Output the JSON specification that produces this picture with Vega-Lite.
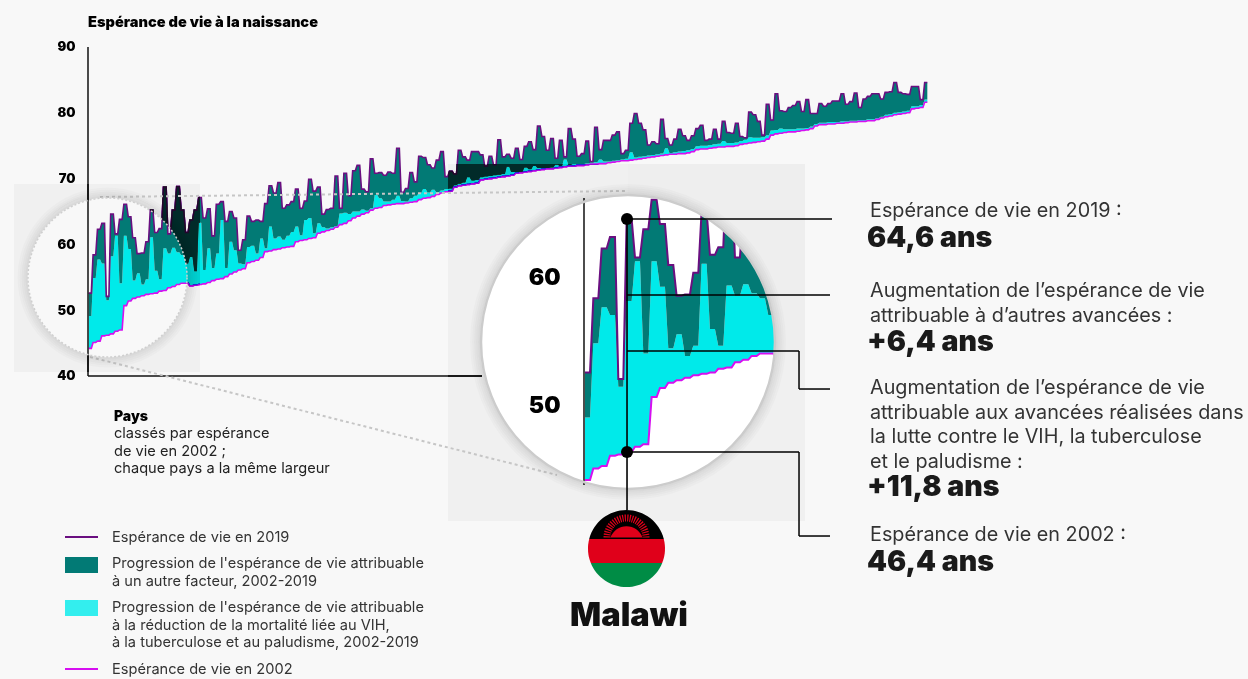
{
"$schema":"https://vega.github.io/schema/vega-lite/v6.json",
"width":1248,"height":679,"autosize":{"type":"none"},"padding":0,"background":"#f8f8f8",
"config":{"view":{"stroke":null},"axis":{"domain":false,"ticks":false,"labels":false,"grid":false,"title":null},
"style":{
"body":{"font":"Inter","fontSize":19.8,"align":"left","baseline":"middle","color":"#333333","dy":1.5},
"big":{"font":"Inter","fontSize":28.5,"fontWeight":900,"align":"left","baseline":"middle","color":"#1a1a1a","dy":1},
"note":{"font":"Inter","fontSize":14.6,"align":"left","baseline":"middle","color":"#222222","dy":1},
"leg":{"font":"Inter","fontSize":14.6,"align":"left","baseline":"middle","color":"#333333","dy":1}
}},
"datasets":{"one":[{"k":1}],"c":[
{"r":0,"a":-0.3,"b":0.3,"l":44.2,"m":49.1,"u":52.6},{"r":1,"a":0.7,"b":1.3,"l":45.1,"m":54.9,"u":58.4},{"r":2,"a":1.7,"b":2.3,"l":45.3,"m":57.7,"u":62.3},{"r":3,"a":2.7,"b":3.3,"l":46.1,"m":57.1,"u":63.2},{"r":4,"a":3.7,"b":4.3,"l":46.2,"m":51.5,"u":52.1},{"r":5,"a":4.7,"b":5.3,"l":46.4,"m":58.2,"u":64.6},{"r":6,"a":5.7,"b":6.3,"l":46.8,"m":61.3,"u":61.6},{"r":7,"a":6.7,"b":7.3,"l":47,"m":54.1,"u":63.8},{"r":8,"a":7.7,"b":8.3,"l":50.7,"m":61.3,"u":66.1},{"r":9,"a":8.7,"b":9.3,"l":51.4,"m":59.3,"u":64.2},
{"r":10,"a":9.7,"b":10.3,"l":51.8,"m":54.5,"u":61},{"r":11,"a":10.7,"b":11.3,"l":52,"m":55.6,"u":58.6},{"r":12,"a":11.7,"b":12.3,"l":52.2,"m":53.9,"u":58.7},{"r":13,"a":12.7,"b":13.3,"l":52.4,"m":54.7,"u":60.4},{"r":14,"a":13.7,"b":14.3,"l":52.5,"m":61.1,"u":65.2},{"r":15,"a":14.7,"b":15.3,"l":52.6,"m":56,"u":61.8},{"r":16,"a":15.7,"b":16.3,"l":52.9,"m":54.7,"u":62.4},{"r":17,"a":16.7,"b":17.3,"l":53,"m":59.4,"u":68.7},{"r":18,"a":17.7,"b":18.3,"l":53.4,"m":58.6,"u":61.6},{"r":19,"a":18.7,"b":19.3,"l":53.6,"m":59.5,"u":65.2},
{"r":20,"a":19.7,"b":20.3,"l":53.9,"m":58.8,"u":68.8},{"r":21,"a":20.7,"b":21.3,"l":54.1,"m":58.4,"u":65.2},{"r":22,"a":21.7,"b":22.3,"l":54.1,"m":57.1,"u":61.8},{"r":23,"a":22.7,"b":23.3,"l":53.7,"m":58.1,"u":63.7},{"r":24,"a":23.7,"b":24.3,"l":53.8,"m":55.9,"u":65.2},{"r":25,"a":24.7,"b":25.3,"l":53.9,"m":63.3,"u":67.1},{"r":26,"a":25.7,"b":26.3,"l":54,"m":56.1,"u":64},{"r":27,"a":26.7,"b":27.3,"l":54.2,"m":59.4,"u":65.4},{"r":28,"a":27.7,"b":28.3,"l":54.5,"m":56.4,"u":61.3},{"r":29,"a":28.7,"b":29.3,"l":54.7,"m":58.6,"u":66.1},
{"r":30,"a":29.7,"b":30.3,"l":54.8,"m":63.7,"u":66.5},{"r":31,"a":30.7,"b":31.3,"l":55.1,"m":56.4,"u":63.5},{"r":32,"a":31.7,"b":32.3,"l":55.5,"m":60.4,"u":65},{"r":33,"a":32.7,"b":33.3,"l":55.8,"m":59.1,"u":64},{"r":34,"a":33.7,"b":34.3,"l":56.1,"m":57.1,"u":59.1},{"r":35,"a":34.7,"b":35.3,"l":56.3,"m":57,"u":60.7},{"r":36,"a":35.7,"b":36.3,"l":57.2,"m":59.6,"u":64.3},{"r":37,"a":36.7,"b":37.3,"l":57.4,"m":59.8,"u":63.5},{"r":38,"a":37.7,"b":38.3,"l":57.6,"m":58.6,"u":63.7},{"r":39,"a":38.7,"b":39.3,"l":58,"m":60.9,"u":63.5},
{"r":40,"a":39.7,"b":40.3,"l":58.9,"m":59.4,"u":66.2},{"r":41,"a":40.7,"b":41.3,"l":59,"m":62.7,"u":68.9},{"r":42,"a":41.7,"b":42.3,"l":59.2,"m":60.9,"u":67.8},{"r":43,"a":42.7,"b":43.3,"l":59.3,"m":61.2,"u":69.4},{"r":44,"a":43.7,"b":44.3,"l":59.5,"m":60.7,"u":65.5},{"r":45,"a":44.7,"b":45.3,"l":59.6,"m":61.3,"u":66},{"r":46,"a":45.7,"b":46.3,"l":59.7,"m":61.9,"u":66.5},{"r":47,"a":46.7,"b":47.3,"l":60.4,"m":62.7,"u":68.4},{"r":48,"a":47.7,"b":48.3,"l":60.6,"m":61.4,"u":65.5},{"r":49,"a":48.7,"b":49.3,"l":60.7,"m":63.7,"u":66.6},
{"r":50,"a":49.7,"b":50.3,"l":60.9,"m":64,"u":69.9},{"r":51,"a":50.7,"b":51.3,"l":61,"m":61.7,"u":68.1},{"r":52,"a":51.7,"b":52.3,"l":61.7,"m":63.2,"u":68.7},{"r":53,"a":52.7,"b":53.3,"l":61.9,"m":62.6,"u":64.6},{"r":54,"a":53.7,"b":54.3,"l":62.1,"m":62.4,"u":65.3},{"r":55,"a":54.7,"b":55.3,"l":62.3,"m":62.6,"u":65.5},{"r":56,"a":55.7,"b":56.3,"l":62.6,"m":62.8,"u":70.4},{"r":57,"a":56.7,"b":57.3,"l":63,"m":64.7,"u":65.5},{"r":58,"a":57.7,"b":58.3,"l":63.2,"m":64.8,"u":70.8},{"r":59,"a":58.7,"b":59.3,"l":63.6,"m":64.6,"u":67.4},
{"r":60,"a":59.7,"b":60.3,"l":64,"m":65,"u":71.2},{"r":61,"a":60.7,"b":61.3,"l":64.3,"m":65,"u":72},{"r":62,"a":61.7,"b":62.3,"l":64.6,"m":65.3,"u":68.4},{"r":63,"a":62.7,"b":63.3,"l":64.8,"m":65.1,"u":68},{"r":64,"a":63.7,"b":64.3,"l":65.2,"m":65.5,"u":73},{"r":65,"a":64.7,"b":65.3,"l":65.5,"m":67.5,"u":70.8},{"r":66,"a":65.7,"b":66.3,"l":65.6,"m":67,"u":70.9},{"r":67,"a":66.7,"b":67.3,"l":65.9,"m":66.5,"u":70.5},{"r":68,"a":67.7,"b":68.3,"l":66,"m":66.5,"u":71},{"r":69,"a":68.7,"b":69.3,"l":66.1,"m":66.8,"u":70.8},
{"r":70,"a":69.7,"b":70.3,"l":66.2,"m":67.4,"u":74.6},{"r":71,"a":70.7,"b":71.3,"l":66.2,"m":66.6,"u":67.9},{"r":72,"a":71.7,"b":72.3,"l":66.3,"m":66.5,"u":68.5},{"r":73,"a":72.7,"b":73.3,"l":66.4,"m":67,"u":70.9},{"r":74,"a":73.7,"b":74.3,"l":66.5,"m":67.4,"u":69.5},{"r":75,"a":74.7,"b":75.3,"l":66.8,"m":67.8,"u":73.4},{"r":76,"a":75.7,"b":76.3,"l":67,"m":68.4,"u":73.2},{"r":77,"a":76.7,"b":77.3,"l":67.1,"m":67.9,"u":72.1},{"r":78,"a":77.7,"b":78.3,"l":67.3,"m":68.3,"u":71.6},{"r":79,"a":78.7,"b":79.3,"l":67.6,"m":67.9,"u":72.8},
{"r":80,"a":79.7,"b":80.3,"l":67.8,"m":68.2,"u":74.1},{"r":81,"a":80.7,"b":81.3,"l":68,"m":68.4,"u":70.3},{"r":82,"a":81.7,"b":82.3,"l":68.1,"m":68.5,"u":71.1},{"r":83,"a":82.7,"b":83.3,"l":68.7,"m":69,"u":70.7},{"r":84,"a":83.7,"b":84.3,"l":68.9,"m":69.2,"u":74.3},{"r":85,"a":84.7,"b":85.3,"l":69,"m":69.4,"u":73.3},{"r":86,"a":85.7,"b":86.3,"l":69.1,"m":70.2,"u":72.8},{"r":87,"a":86.7,"b":87.3,"l":69.2,"m":69.7,"u":74.1},{"r":88,"a":87.7,"b":88.3,"l":69.3,"m":69.8,"u":74.1},{"r":89,"a":88.7,"b":89.3,"l":69.8,"m":70.2,"u":73.6},
{"r":90,"a":89.7,"b":90.3,"l":69.9,"m":70.3,"u":71.9},{"r":91,"a":90.7,"b":91.3,"l":70,"m":70.4,"u":73.4},{"r":92,"a":91.7,"b":92.3,"l":70.1,"m":70.5,"u":72.1},{"r":93,"a":92.7,"b":93.3,"l":70.2,"m":70.6,"u":75.9},{"r":94,"a":93.7,"b":94.3,"l":70.3,"m":70.7,"u":73.3},{"r":95,"a":94.7,"b":95.3,"l":70.4,"m":71.8,"u":73.7},{"r":96,"a":95.7,"b":96.3,"l":70.5,"m":71,"u":73.1},{"r":97,"a":96.7,"b":97.3,"l":70.8,"m":71,"u":74.6},{"r":98,"a":97.7,"b":98.3,"l":70.9,"m":71,"u":72.9},{"r":99,"a":98.7,"b":99.3,"l":71,"m":71.7,"u":74.9},
{"r":100,"a":99.7,"b":100.3,"l":71.1,"m":71.4,"u":75.6},{"r":101,"a":100.7,"b":101.3,"l":71.2,"m":71.9,"u":74.4},{"r":102,"a":101.7,"b":102.3,"l":71.3,"m":71.6,"u":78},{"r":103,"a":102.7,"b":103.3,"l":71.4,"m":71.6,"u":76.4},{"r":104,"a":103.7,"b":104.3,"l":71.5,"m":71.6,"u":74.3},{"r":105,"a":104.7,"b":105.3,"l":71.5,"m":71.7,"u":76.1},{"r":106,"a":105.7,"b":106.3,"l":71.6,"m":72.1,"u":73.1},{"r":107,"a":106.7,"b":107.3,"l":71.7,"m":71.9,"u":75.8},{"r":108,"a":107.7,"b":108.3,"l":71.8,"m":72.9,"u":73.3},{"r":109,"a":108.7,"b":109.3,"l":71.9,"m":72.1,"u":77.6},
{"r":110,"a":109.7,"b":110.3,"l":71.9,"m":72.2,"u":76},{"r":111,"a":110.7,"b":111.3,"l":72,"m":72.2,"u":73.4},{"r":112,"a":111.7,"b":112.3,"l":72,"m":72.2,"u":73.8},{"r":113,"a":112.7,"b":113.3,"l":72.1,"m":72.3,"u":75.7},{"r":114,"a":113.7,"b":114.3,"l":72.2,"m":72.4,"u":72.6},{"r":115,"a":114.7,"b":115.3,"l":72.2,"m":72.5,"u":77.8},{"r":116,"a":115.7,"b":116.3,"l":72.3,"m":72.9,"u":74.4},{"r":117,"a":116.7,"b":117.3,"l":72.3,"m":72.6,"u":75.8},{"r":118,"a":117.7,"b":118.3,"l":72.4,"m":72.6,"u":75.8},{"r":119,"a":118.7,"b":119.3,"l":72.5,"m":72.7,"u":76.6},
{"r":120,"a":119.7,"b":120.3,"l":72.6,"m":72.8,"u":77.1},{"r":121,"a":120.7,"b":121.3,"l":72.7,"m":72.9,"u":73.8},{"r":122,"a":121.7,"b":122.3,"l":72.7,"m":73,"u":74.3},{"r":123,"a":122.7,"b":123.3,"l":72.8,"m":74,"u":78.4},{"r":124,"a":123.7,"b":124.3,"l":72.9,"m":73.2,"u":79.9},{"r":125,"a":124.7,"b":125.3,"l":73,"m":73.3,"u":78.4},{"r":126,"a":125.7,"b":126.3,"l":73.1,"m":73.4,"u":77.4},{"r":127,"a":126.7,"b":127.3,"l":73.2,"m":73.5,"u":75.1},{"r":128,"a":127.7,"b":128.3,"l":73.3,"m":73.6,"u":75.6},{"r":129,"a":128.7,"b":129.3,"l":73.4,"m":73.7,"u":75.3},
{"r":130,"a":129.7,"b":130.3,"l":73.5,"m":73.8,"u":79},{"r":131,"a":130.7,"b":131.3,"l":73.6,"m":74.6,"u":76.1},{"r":132,"a":131.7,"b":132.3,"l":73.7,"m":73.9,"u":75.1},{"r":133,"a":132.7,"b":133.3,"l":73.7,"m":74,"u":76},{"r":134,"a":133.7,"b":134.3,"l":73.8,"m":74.1,"u":77.5},{"r":135,"a":134.7,"b":135.3,"l":73.8,"m":74.2,"u":76.5},{"r":136,"a":135.7,"b":136.3,"l":73.9,"m":74.3,"u":75.8},{"r":137,"a":136.7,"b":137.3,"l":74.1,"m":74.5,"u":76.5},{"r":138,"a":137.7,"b":138.3,"l":74.4,"m":74.9,"u":77.6},{"r":139,"a":138.7,"b":139.3,"l":74.5,"m":75,"u":78.1},
{"r":140,"a":139.7,"b":140.3,"l":74.5,"m":75,"u":75.8},{"r":141,"a":140.7,"b":141.3,"l":74.6,"m":75.1,"u":76},{"r":142,"a":141.7,"b":142.3,"l":74.7,"m":75.2,"u":77.5},{"r":143,"a":142.7,"b":143.3,"l":74.8,"m":75.3,"u":76},{"r":144,"a":143.7,"b":144.3,"l":74.8,"m":75.7,"u":78.7},{"r":145,"a":144.7,"b":145.3,"l":74.9,"m":75.4,"u":77},{"r":146,"a":145.7,"b":146.3,"l":74.9,"m":75.4,"u":76.9},{"r":147,"a":146.7,"b":147.3,"l":75,"m":75.5,"u":78.4},{"r":148,"a":147.7,"b":148.3,"l":75.2,"m":75.7,"u":76.4},{"r":149,"a":148.7,"b":149.3,"l":75.3,"m":75.9,"u":76.2},
{"r":150,"a":149.7,"b":150.3,"l":75.4,"m":76.3,"u":80.1},{"r":151,"a":150.7,"b":151.3,"l":75.5,"m":76.2,"u":79.7},{"r":152,"a":151.7,"b":152.3,"l":75.6,"m":76.2,"u":78.7},{"r":153,"a":152.7,"b":153.3,"l":75.7,"m":76.3,"u":76.6},{"r":154,"a":153.7,"b":154.3,"l":76,"m":76.6,"u":81.3},{"r":155,"a":154.7,"b":155.3,"l":76.6,"m":77.3,"u":78.9},{"r":156,"a":155.7,"b":156.3,"l":76.8,"m":77.4,"u":82.9},{"r":157,"a":156.7,"b":157.3,"l":76.9,"m":77.6,"u":80.3},{"r":158,"a":157.7,"b":158.3,"l":77,"m":77.5,"u":80.2},{"r":159,"a":158.7,"b":159.3,"l":77.1,"m":77.5,"u":80.8},
{"r":160,"a":159.7,"b":160.3,"l":77.1,"m":77.5,"u":81.1},{"r":161,"a":160.7,"b":161.3,"l":77.2,"m":77.6,"u":81.7},{"r":162,"a":161.7,"b":162.3,"l":77.3,"m":77.6,"u":80.2},{"r":163,"a":162.7,"b":163.3,"l":77.4,"m":77.7,"u":82},{"r":164,"a":163.7,"b":164.3,"l":77.6,"m":77.9,"u":79.9},{"r":165,"a":164.7,"b":165.3,"l":78,"m":78.3,"u":79.9},{"r":166,"a":165.7,"b":166.3,"l":78.2,"m":78.5,"u":81.4},{"r":167,"a":166.7,"b":167.3,"l":78.2,"m":78.5,"u":81},{"r":168,"a":167.7,"b":168.3,"l":78.3,"m":78.6,"u":81.4},{"r":169,"a":168.7,"b":169.3,"l":78.3,"m":78.6,"u":81.8},
{"r":170,"a":169.7,"b":170.3,"l":78.4,"m":78.6,"u":81.8},{"r":171,"a":170.7,"b":171.3,"l":78.4,"m":78.7,"u":82.9},{"r":172,"a":171.7,"b":172.3,"l":78.5,"m":78.7,"u":81.3},{"r":173,"a":172.7,"b":173.3,"l":78.6,"m":78.8,"u":81.7},{"r":174,"a":173.7,"b":174.3,"l":78.6,"m":78.8,"u":83},{"r":175,"a":174.7,"b":175.3,"l":78.7,"m":78.9,"u":80.8},{"r":176,"a":175.7,"b":176.3,"l":78.7,"m":78.9,"u":82.1},{"r":177,"a":176.7,"b":177.3,"l":78.8,"m":79,"u":82.5},{"r":178,"a":177.7,"b":178.3,"l":78.8,"m":79,"u":82.9},{"r":179,"a":178.7,"b":179.3,"l":79,"m":79.2,"u":82.9},
{"r":180,"a":179.7,"b":180.3,"l":79.2,"m":79.4,"u":82.1},{"r":181,"a":180.7,"b":181.3,"l":79.4,"m":79.7,"u":83.1},{"r":182,"a":181.7,"b":182.3,"l":79.5,"m":79.8,"u":83.2},{"r":183,"a":182.7,"b":183.3,"l":79.7,"m":80,"u":84.6},{"r":184,"a":183.7,"b":184.3,"l":79.8,"m":80.1,"u":83.1},{"r":185,"a":184.7,"b":185.3,"l":79.9,"m":80.2,"u":82.9},{"r":186,"a":185.7,"b":186.3,"l":80,"m":80.3,"u":82.8},{"r":187,"a":186.7,"b":187.3,"l":80.6,"m":81,"u":84},{"r":188,"a":187.7,"b":188.3,"l":80.7,"m":81,"u":84},{"r":189,"a":188.7,"b":189.3,"l":80.8,"m":81.2,"u":82},
{"r":190,"a":189.7,"b":190.3,"l":81.6,"m":82,"u":84.6}
]},
"resolve":{"scale":{"x":"independent","y":"independent"}},
"layer":[
{"data":{"name":"one"},"layer":[
{"data":{"name":"c"},"transform":[{"fold":["a","b"],"as":["e","p"]}],"mark":{"type":"area","color":"#00eaea"},
 "encoding":{"x":{"field":"p","type":"quantitative","axis":{"title":null},"scale":{"domain":[-20.4545,263.1818],"zero":false,"nice":false}},
  "y":{"field":"l","type":"quantitative","scale":{"domain":[-6.05,97.14],"zero":false,"nice":false},
   "axis":{"title":null,"orient":"left","offset":-81,"values":[40,50,60,70,80,90],"labels":true,"labelFont":"Inter","labelFontWeight":900,"labelFontSize":13,"labelColor":"#000000","labelPadding":6,"zindex":1}},
  "y2":{"field":"m"}}},
{"data":{"name":"c"},"transform":[{"fold":["a","b"],"as":["e","p"]}],"mark":{"type":"area","color":"#027a75"},
 "encoding":{"x":{"field":"p","type":"quantitative"},"y":{"field":"m","type":"quantitative"},"y2":{"field":"u"}}},
{"data":{"name":"c"},"transform":[{"fold":["a","b"],"as":["e","p"]}],"mark":{"type":"line","color":"#6a0f80","strokeWidth":1.6},
 "encoding":{"x":{"field":"p","type":"quantitative"},"y":{"field":"u","type":"quantitative"}}},
{"data":{"name":"c"},"transform":[{"fold":["a","b"],"as":["e","p"]}],"mark":{"type":"line","color":"#d60ff0","strokeWidth":1.6},
 "encoding":{"x":{"field":"p","type":"quantitative"},"y":{"field":"l","type":"quantitative"}}},
{"mark":{"type":"rule","color":"#111111","strokeWidth":1.5},"encoding":{"x":{"datum":-0.455},"y":{"datum":90},"y2":{"datum":40}}},
{"mark":{"type":"rule","color":"#111111","strokeWidth":1.5},"encoding":{"x":{"datum":-0.455},"x2":{"datum":89.09},"y":{"datum":40}}},
{"mark":{"type":"point","filled":true,"color":"#595959","opacity":0.65,"blend":"color-burn","size":4,"shape":"M-93.5,-93.5 L92.5,-93.5 L92.5,94.5 L-93.5,94.5 Z M0,-79.5 A79.5,79.5 0 1 0 0,79.5 A79.5,79.5 0 1 0 0,-79.5 Z"},
 "encoding":{"x":{"datum":3.98},"y":{"datum":54.97}}},
{"mark":{"type":"rect","color":"#595959","opacity":0.65,"blend":"color-burn"},"encoding":{"x":{"datum":81.36},"x2":{"datum":162.5},"y":{"datum":72.22},"y2":{"datum":17.96}}},
{"mark":{"type":"rule","color":"#c6c6c6","strokeWidth":2,"strokeDash":[3,3]},"encoding":{"x":{"datum":2.27},"x2":{"datum":121.82},"y":{"datum":67.2},"y2":{"datum":68.12}}},
{"mark":{"type":"rule","color":"#c6c6c6","strokeWidth":2,"strokeDash":[3,3]},"encoding":{"x":{"datum":0},"x2":{"datum":106.14},"y":{"datum":42.89},"y2":{"datum":24.95}}},
{"mark":{"type":"point","filled":false,"color":"#000000","opacity":0.015,"strokeWidth":2,"size":31684},"encoding":{"x":{"datum":3.98},"y":{"datum":54.97}}},
{"mark":{"type":"point","filled":false,"color":"#000000","opacity":0.03,"strokeWidth":2,"size":30276},"encoding":{"x":{"datum":3.98},"y":{"datum":54.97}}},
{"mark":{"type":"point","filled":false,"color":"#000000","opacity":0.05,"strokeWidth":2,"size":28900},"encoding":{"x":{"datum":3.98},"y":{"datum":54.97}}},
{"mark":{"type":"point","filled":false,"color":"#000000","opacity":0.07,"strokeWidth":2,"size":27556},"encoding":{"x":{"datum":3.98},"y":{"datum":54.97}}},
{"mark":{"type":"point","filled":false,"color":"#000000","opacity":0.09,"strokeWidth":2,"size":26244},"encoding":{"x":{"datum":3.98},"y":{"datum":54.97}}},
{"mark":{"type":"point","filled":false,"color":"#cfcfcf","opacity":1,"strokeWidth":1.5,"strokeDash":[2,2],"size":25281},"encoding":{"x":{"datum":3.98},"y":{"datum":54.97}}}
]},
{"data":{"name":"one"},"layer":[
{"mark":{"type":"point","filled":true,"color":"#ffffff","opacity":1,"size":86436},
 "encoding":{"x":{"datum":4.86,"axis":{"title":null},"scale":{"domain":[-70.528,79.292],"zero":false,"nice":false}},
  "y":{"datum":54.99,"scale":{"domain":[28.66,81.71],"zero":false,"nice":false},
   "axis":{"title":null,"orient":"left","offset":-566,"values":[50,60],"labels":true,"labelFont":"Inter","labelFontWeight":900,"labelFontSize":23,"labelColor":"#000000","labelPadding":6,"zindex":1}}}},
{"mark":{"type":"rule","color":"#111111","strokeWidth":1.5},"encoding":{"x":{"datum":-0.42},"y":{"datum":66.24},"y2":{"datum":43.82}}},
{"data":{"name":"c"},"transform":[{"filter":"datum.r<=23"},{"fold":["a","b"],"as":["e","p"]}],"mark":{"type":"area","color":"#00eaea"},
 "encoding":{"x":{"field":"p","type":"quantitative"},"y":{"field":"l","type":"quantitative"},"y2":{"field":"m"}}},
{"data":{"name":"c"},"transform":[{"filter":"datum.r<=23"},{"fold":["a","b"],"as":["e","p"]}],"mark":{"type":"area","color":"#027a75"},
 "encoding":{"x":{"field":"p","type":"quantitative"},"y":{"field":"m","type":"quantitative"},"y2":{"field":"u"}}},
{"data":{"name":"c"},"transform":[{"filter":"datum.r<=23"},{"fold":["a","b"],"as":["e","p"]}],"mark":{"type":"line","color":"#6a0f80","strokeWidth":2},
 "encoding":{"x":{"field":"p","type":"quantitative"},"y":{"field":"u","type":"quantitative"}}},
{"data":{"name":"c"},"transform":[{"filter":"datum.r<=23"},{"fold":["a","b"],"as":["e","p"]}],"mark":{"type":"line","color":"#d60ff0","strokeWidth":2},
 "encoding":{"x":{"field":"p","type":"quantitative"},"y":{"field":"l","type":"quantitative"}}},
{"mark":{"type":"point","filled":true,"color":"#eeeeee","opacity":1,"size":4,"shape":"M0,-178 L177,-178 L177,18 L145.9,18 A147,147 0 0 0 0,-147 Z"},
 "encoding":{"x":{"datum":4.86},"y":{"datum":54.99}}}
]},
{"data":{"name":"one"},"layer":[
{"mark":{"type":"point","filled":false,"color":"#000000","opacity":0.015,"strokeWidth":2,"size":98596},
 "encoding":{"x":{"datum":122.27,"axis":{"title":null},"scale":{"domain":[-20.4545,263.1818],"zero":false,"nice":false}},"y":{"datum":45.17,"axis":{"title":null},"scale":{"domain":[-6.05,97.14],"zero":false,"nice":false}}}},
{"mark":{"type":"point","filled":false,"color":"#000000","opacity":0.03,"strokeWidth":2,"size":96100},"encoding":{"x":{"datum":122.27},"y":{"datum":45.17}}},
{"mark":{"type":"point","filled":false,"color":"#000000","opacity":0.05,"strokeWidth":2,"size":93636},"encoding":{"x":{"datum":122.27},"y":{"datum":45.17}}},
{"mark":{"type":"point","filled":false,"color":"#000000","opacity":0.07,"strokeWidth":2,"size":91204},"encoding":{"x":{"datum":122.27},"y":{"datum":45.17}}},
{"mark":{"type":"point","filled":false,"color":"#000000","opacity":0.09,"strokeWidth":2,"size":88804},"encoding":{"x":{"datum":122.27},"y":{"datum":45.17}}},
{"mark":{"type":"point","filled":false,"color":"#cccccc","opacity":1,"strokeWidth":2.5,"size":86436},"encoding":{"x":{"datum":122.27},"y":{"datum":45.17}}},

{"mark":{"type":"rule","color":"#000000","strokeWidth":1.6},"encoding":{"x":{"datum":122.05},"y":{"datum":63.86},"y2":{"datum":19.63}}},
{"mark":{"type":"rule","color":"#000000","strokeWidth":1.5},"encoding":{"x":{"datum":122.05},"x2":{"datum":168.64},"y":{"datum":63.86}}},
{"mark":{"type":"rule","color":"#000000","strokeWidth":1.5},"encoding":{"x":{"datum":122.05},"x2":{"datum":168.18},"y":{"datum":52.31}}},
{"mark":{"type":"rule","color":"#000000","strokeWidth":1.5},"encoding":{"x":{"datum":122.05},"x2":{"datum":161.14},"y":{"datum":43.8}}},
{"mark":{"type":"rule","color":"#000000","strokeWidth":1.5},"encoding":{"x":{"datum":161.14},"y":{"datum":43.8},"y2":{"datum":38.02}}},
{"mark":{"type":"rule","color":"#000000","strokeWidth":1.5},"encoding":{"x":{"datum":161.14},"x2":{"datum":168.18},"y":{"datum":38.02}}},
{"mark":{"type":"rule","color":"#000000","strokeWidth":1.5},"encoding":{"x":{"datum":122.05},"x2":{"datum":161.14},"y":{"datum":28.45}}},
{"mark":{"type":"rule","color":"#000000","strokeWidth":1.5},"encoding":{"x":{"datum":161.14},"y":{"datum":28.45},"y2":{"datum":15.68}}},
{"mark":{"type":"rule","color":"#000000","strokeWidth":1.5},"encoding":{"x":{"datum":161.14},"x2":{"datum":168.18},"y":{"datum":15.68}}},
{"mark":{"type":"point","filled":true,"color":"#000000","opacity":1,"size":144},"encoding":{"x":{"datum":122.05},"y":{"datum":63.86}}},
{"mark":{"type":"point","filled":true,"color":"#000000","opacity":1,"size":144},"encoding":{"x":{"datum":122.05},"y":{"datum":28.45}}},

{"mark":{"type":"point","filled":true,"color":"#000000","opacity":1,"size":4,"shape":"M-37.3,-9.5 A38.5,38.5 0 0 1 37.3,-9.5 Z"},"encoding":{"x":{"datum":121.93},"y":{"datum":13.78}}},
{"mark":{"type":"point","filled":true,"color":"#e0001a","opacity":1,"size":4,"shape":"M-37.3,-9.5 L37.3,-9.5 A38.5,38.5 0 0 1 35.7,14.5 L-35.7,14.5 A38.5,38.5 0 0 1 -37.3,-9.5 Z"},"encoding":{"x":{"datum":121.93},"y":{"datum":13.78}}},
{"mark":{"type":"point","filled":true,"color":"#008c45","opacity":1,"size":4,"shape":"M-35.7,14.5 L35.7,14.5 A38.5,38.5 0 0 1 -35.7,14.5 Z"},"encoding":{"x":{"datum":121.93},"y":{"datum":13.78}}},
{"mark":{"type":"point","filled":true,"color":"#e0001a","opacity":1,"size":4,"shape":"M-16,-11 A17,17 0 0 1 16,-11 Z"},"encoding":{"x":{"datum":121.93},"y":{"datum":13.78}}},
{"mark":{"type":"point","filled":false,"color":"#e0001a","opacity":1,"size":4,"strokeWidth":7,"strokeDash":[1.2,1.2],"shape":"M-19.5,-11 A19.5,19.5 0 0 1 19.5,-11"},"encoding":{"x":{"datum":121.93},"y":{"datum":13.78}}},

{"mark":{"type":"text","font":"Inter","fontSize":14.6,"fontWeight":900,"align":"left","baseline":"middle","color":"#000000","dy":1,"text":"Espérance de vie à la naissance"},"encoding":{"x":{"datum":-0.455},"y":{"datum":93.8}}},
{"mark":{"type":"text","font":"Inter","fontSize":14,"fontWeight":900,"align":"left","baseline":"middle","color":"#000000","dy":1,"text":"Pays"},"encoding":{"x":{"datum":5.455},"y":{"datum":33.92}}},
{"mark":{"type":"text","style":"note","text":"classés par espérance"},"encoding":{"x":{"datum":5.455},"y":{"datum":31.34}}},
{"mark":{"type":"text","style":"note","text":"de vie en 2002 ;"},"encoding":{"x":{"datum":5.455},"y":{"datum":28.6}}},
{"mark":{"type":"text","style":"note","text":"chaque pays a la même largeur"},"encoding":{"x":{"datum":5.455},"y":{"datum":26.02}}},

{"mark":{"type":"text","style":"body","text":"Espérance de vie en 2019 :"},"encoding":{"x":{"datum":177.27},"y":{"datum":65.23}}},
{"mark":{"type":"text","style":"big","text":"64,6 ans"},"encoding":{"x":{"datum":176.59},"y":{"datum":61.13}}},
{"mark":{"type":"text","style":"body","text":"Augmentation de l’espérance de vie"},"encoding":{"x":{"datum":177.27},"y":{"datum":53.07}}},
{"mark":{"type":"text","style":"body","text":"attribuable à d’autres avancées :"},"encoding":{"x":{"datum":177.27},"y":{"datum":49.42}}},
{"mark":{"type":"text","style":"big","text":"+6,4 ans"},"encoding":{"x":{"datum":176.59},"y":{"datum":45.32}}},
{"mark":{"type":"text","style":"body","text":"Augmentation de l’espérance de vie"},"encoding":{"x":{"datum":177.27},"y":{"datum":38.33}}},
{"mark":{"type":"text","style":"body","text":"attribuable aux avancées réalisées dans"},"encoding":{"x":{"datum":177.27},"y":{"datum":34.53}}},
{"mark":{"type":"text","style":"body","text":"la lutte contre le VIH, la tuberculose"},"encoding":{"x":{"datum":177.27},"y":{"datum":30.88}}},
{"mark":{"type":"text","style":"body","text":"et le paludisme :"},"encoding":{"x":{"datum":177.27},"y":{"datum":27.23}}},
{"mark":{"type":"text","style":"big","text":"+11,8 ans"},"encoding":{"x":{"datum":176.59},"y":{"datum":23.28}}},
{"mark":{"type":"text","style":"body","text":"Espérance de vie en 2002 :"},"encoding":{"x":{"datum":177.27},"y":{"datum":15.99}}},
{"mark":{"type":"text","style":"big","text":"46,4 ans"},"encoding":{"x":{"datum":176.59},"y":{"datum":11.88}}},
{"mark":{"type":"text","font":"Inter","fontSize":32.6,"fontWeight":900,"align":"center","baseline":"middle","color":"#111111","text":"Malawi"},"encoding":{"x":{"datum":122.5},"y":{"datum":3.52}}},

{"mark":{"type":"rule","color":"#6a0f80","strokeWidth":2},"encoding":{"x":{"datum":-5.68},"x2":{"datum":1.818},"y":{"datum":15.53}}},
{"mark":{"type":"rect","color":"#027a75"},"encoding":{"x":{"datum":-5.68},"x2":{"datum":1.818},"y":{"datum":12.49},"y2":{"datum":10.06}}},
{"mark":{"type":"rect","color":"#33eeee"},"encoding":{"x":{"datum":-5.68},"x2":{"datum":1.818},"y":{"datum":5.96},"y2":{"datum":3.52}}},
{"mark":{"type":"rule","color":"#d60ff0","strokeWidth":2},"encoding":{"x":{"datum":-5.68},"x2":{"datum":1.818},"y":{"datum":-4.53}}},
{"mark":{"type":"text","style":"leg","text":"Espérance de vie en 2019"},"encoding":{"x":{"datum":5},"y":{"datum":15.53}}},
{"mark":{"type":"text","style":"leg","text":"Progression de l'espérance de vie attribuable"},"encoding":{"x":{"datum":5},"y":{"datum":11.58}}},
{"mark":{"type":"text","style":"leg","text":"à un autre facteur, 2002-2019"},"encoding":{"x":{"datum":5},"y":{"datum":8.84}}},
{"mark":{"type":"text","style":"leg","text":"Progression de l'espérance de vie attribuable"},"encoding":{"x":{"datum":5},"y":{"datum":4.89}}},
{"mark":{"type":"text","style":"leg","text":"à la réduction de la mortalité liée au VIH,"},"encoding":{"x":{"datum":5},"y":{"datum":2.16}}},
{"mark":{"type":"text","style":"leg","text":"à la tuberculose et au paludisme, 2002-2019"},"encoding":{"x":{"datum":5},"y":{"datum":-0.43}}},
{"mark":{"type":"text","style":"leg","text":"Espérance de vie en 2002"},"encoding":{"x":{"datum":5},"y":{"datum":-4.53}}}
]}
]
}
